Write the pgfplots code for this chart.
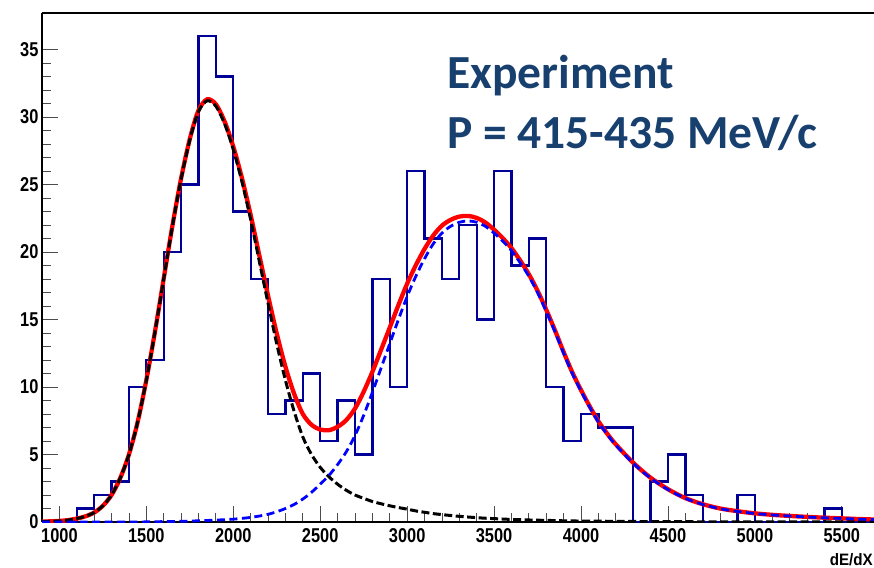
\documentclass[border=0pt]{standalone}
\usepackage{pgfplots}
\pgfplotsset{compat=1.18}
\usepackage{fontspec}
\setmainfont{Liberation Sans}
\newfontfamily\tickfont[FakeStretch=0.82]{Liberation Sans}
\newfontfamily\labfont[FakeStretch=0.92]{Liberation Sans}
\newfontfamily\calfont{Carlito}
\definecolor{histblue}{rgb}{0,0,0.6}
\definecolor{txtblue}{HTML}{18406F}
\begin{document}
\begin{tikzpicture}
\useasboundingbox (-42pt,-45pt) rectangle (832pt,522pt);
\begin{axis}[
  at={(0pt,0pt)}, anchor=south west,
  scale only axis, width=832pt, height=509pt,
  xmin=900, xmax=5685, ymin=0, ymax=37.7,
  axis y line*=left,
  tick pos=left,
  axis line style={line width=2.4pt},
  xtick={1000,1500,2000,2500,3000,3500,4000,4500,5000,5500},
  ytick={0,5,10,15,20,25,30,35},
  minor x tick num=4, minor y tick num=4,
  major tick length=16pt, minor tick length=9pt,
  tick style={line width=0.8pt, black!70},
  /pgf/number format/1000 sep={},
  /pgf/number format/assume math mode=true,
  ticklabel style={font=\tickfont\bfseries\fontsize{20}{21}\selectfont},
  xticklabel style={yshift=-3pt},
]
\addplot[const plot, color=histblue, line width=2.3pt] coordinates {
(900,0)(1000,0)(1100,1)(1200,2)(1300,3)(1400,10)(1500,12)(1600,20)(1700,25)(1800,36)(1900,33)(2000,23)(2100,18)(2200,8)(2300,9)(2400,11)(2500,6)(2600,9)(2700,5)(2800,18)(2900,10)(3000,26)(3100,21)(3200,18)(3300,22)(3400,15)(3500,26)(3600,19)(3700,21)(3800,10)(3900,6)(4000,8)(4100,7)(4200,7)(4300,0)(4400,3)(4500,5)(4600,2)(4700,0)(4800,0)(4900,2)(5000,0)(5100,0)(5200,0)(5300,0)(5400,1)(5500,0)(5700,0)};
\addplot[smooth, red, line width=4.3pt] table[x=x, y=R] {
x B C R
900 0.03 0.00 0.03
950 0.05 0.00 0.05
1000 0.08 0.00 0.08
1050 0.14 0.00 0.14
1100 0.25 0.00 0.25
1150 0.42 0.00 0.42
1200 0.70 0.00 0.70
1250 1.20 0.00 1.20
1300 2.00 0.00 2.00
1350 3.25 0.00 3.25
1400 5.00 0.00 5.00
1450 7.40 0.00 7.40
1500 10.50 0.01 10.51
1550 14.10 0.02 14.12
1600 18.00 0.03 18.03
1650 21.90 0.04 21.94
1700 25.40 0.05 25.45
1750 28.30 0.07 28.37
1800 30.40 0.09 30.49
1850 31.20 0.11 31.31
1900 30.80 0.14 30.94
1950 29.50 0.17 29.67
2000 27.60 0.21 27.81
2050 25.20 0.27 25.47
2100 22.40 0.34 22.74
2150 19.30 0.44 19.74
2200 16.20 0.57 16.77
2250 13.20 0.76 13.96
2300 10.50 1.00 11.50
2350 8.20 1.30 9.50
2400 6.30 1.70 8.00
2450 5.00 2.20 7.20
2500 4.05 2.80 6.85
2550 3.35 3.45 6.80
2600 2.80 4.25 7.05
2650 2.35 5.20 7.55
2700 2.00 6.40 8.40
2750 1.75 7.90 9.65
2800 1.52 9.60 11.12
2850 1.35 11.40 12.75
2900 1.20 13.20 14.40
2950 1.07 15.00 16.07
3000 0.95 16.70 17.65
3050 0.82 18.20 19.02
3100 0.72 19.50 20.22
3150 0.62 20.60 21.22
3200 0.55 21.40 21.95
3250 0.48 21.90 22.38
3300 0.42 22.20 22.62
3350 0.37 22.30 22.67
3400 0.32 22.20 22.52
3450 0.28 21.90 22.18
3500 0.25 21.40 21.65
3550 0.22 20.80 21.02
3600 0.19 20.10 20.29
3650 0.17 19.20 19.37
3700 0.15 18.20 18.35
3750 0.13 17.00 17.13
3800 0.12 15.60 15.72
3850 0.10 14.10 14.20
3900 0.09 12.50 12.59
3950 0.08 11.00 11.08
4000 0.07 9.70 9.77
4050 0.06 8.50 8.56
4100 0.06 7.40 7.46
4150 0.05 6.50 6.55
4200 0.05 5.70 5.75
4300 0.04 4.35 4.39
4400 0.03 3.25 3.28
4500 0.03 2.40 2.43
4600 0.02 1.75 1.77
4700 0.02 1.30 1.32
4800 0.02 0.98 1.00
4900 0.02 0.78 0.80
5000 0.01 0.63 0.64
5100 0.01 0.52 0.53
5200 0.01 0.44 0.45
5300 0.01 0.37 0.38
5400 0.01 0.31 0.32
5500 0.01 0.26 0.27
5600 0.01 0.21 0.22
5700 0.01 0.17 0.18
};
\addplot[smooth, black, line width=3pt, dash pattern=on 8pt off 3.5pt] table[x=x, y=B] {
x B
900 0.03
950 0.05
1000 0.08
1050 0.14
1100 0.25
1150 0.42
1200 0.70
1250 1.20
1300 2.00
1350 3.25
1400 5.00
1450 7.40
1500 10.50
1550 14.10
1600 18.00
1650 21.90
1700 25.40
1750 28.30
1800 30.40
1850 31.20
1900 30.80
1950 29.50
2000 27.60
2050 25.20
2100 22.40
2150 19.30
2200 16.20
2250 13.20
2300 10.50
2350 8.20
2400 6.30
2450 5.00
2500 4.05
2550 3.35
2600 2.80
2650 2.35
2700 2.00
2750 1.75
2800 1.52
2850 1.35
2900 1.20
2950 1.07
3000 0.95
3050 0.82
3100 0.72
3150 0.62
3200 0.55
3250 0.48
3300 0.42
3350 0.37
3400 0.32
3450 0.28
3500 0.25
3600 0.19
3700 0.15
3800 0.12
3900 0.09
4000 0.07
4200 0.05
4400 0.03
4600 0.02
5000 0.01
5700 0.01
};
\addplot[smooth, blue, line width=2.8pt, dash pattern=on 8pt off 4.5pt] table[x=x, y=C] {
x C
900 0.00
1400 0.00
1500 0.01
1600 0.03
1700 0.05
1800 0.09
1900 0.14
2000 0.21
2050 0.27
2100 0.34
2150 0.44
2200 0.57
2250 0.76
2300 1.00
2350 1.30
2400 1.70
2450 2.20
2500 2.80
2550 3.45
2600 4.25
2650 5.20
2700 6.40
2750 7.90
2800 9.60
2850 11.40
2900 13.20
2950 15.00
3000 16.70
3050 18.20
3100 19.50
3150 20.60
3200 21.40
3250 21.90
3300 22.20
3350 22.30
3400 22.20
3450 21.90
3500 21.40
3550 20.80
3600 20.10
3650 19.20
3700 18.20
3750 17.00
3800 15.60
3850 14.10
3900 12.50
3950 11.00
4000 9.70
4050 8.50
4100 7.40
4150 6.50
4200 5.70
4300 4.35
4400 3.25
4500 2.40
4600 1.75
4700 1.30
4800 0.98
4900 0.78
5000 0.63
5100 0.52
5200 0.44
5300 0.37
5400 0.31
5500 0.26
5600 0.21
5700 0.17
};
\end{axis}
\node[anchor=base east, inner sep=0pt, font=\labfont\bfseries\fontsize{16.5}{18}\selectfont] at (831pt,-43pt) {dE/dX};
\node[anchor=base west, inner sep=0pt, text=txtblue, font=\calfont\bfseries\fontsize{47.5}{50}\selectfont] at (405pt,433.7pt) {Experiment};
\node[anchor=base west, inner sep=0pt, text=txtblue, font=\calfont\bfseries\fontsize{47.5}{50}\selectfont] at (405pt,373.7pt) {P = 415-435 MeV/c};
\end{tikzpicture}
\end{document}
